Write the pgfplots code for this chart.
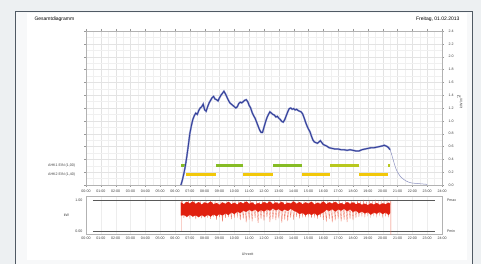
\documentclass[border=0pt]{standalone}
\usepackage{pgfplots}
\pgfplotsset{compat=1.18}
\usepackage{fontspec}
\setmainfont{Liberation Sans}
\definecolor{bgc}{HTML}{EDF0F2}
\definecolor{panel}{HTML}{F7F8F9}
\definecolor{frame}{HTML}{505A64}
\definecolor{curve}{HTML}{2F3C96}
\definecolor{halo}{HTML}{8C94CC}
\definecolor{tail}{HTML}{8A90C0}
\definecolor{grn}{HTML}{86BC25}
\definecolor{ygrn}{HTML}{B8C81E}
\definecolor{yel}{HTML}{F2C80A}
\definecolor{dred}{HTML}{E0200F}
\definecolor{salm}{HTML}{F07A66}
\definecolor{txt}{HTML}{404040}
\newcommand{\tk}{\fontsize{3.6}{4}\selectfont}
\begin{document}
\begin{tikzpicture}[x=1pt,y=1pt]
\useasboundingbox (0,0) rectangle (481,264);
\fill[bgc] (0,0) rectangle (481,264);
\filldraw[fill=panel,draw=frame,line width=0.8pt] (15,-2) rectangle (472,253);
\fill[white] (27,4) rectangle (467,251);
\node[anchor=west,font=\fontsize{5}{6}\selectfont] at (31,245) {Gesamtdiagramm};
\node[anchor=east,font=\fontsize{5}{6}\selectfont] at (463,245) {Freitag, 01.02.2013};
% upper axis
\begin{axis}[
  at={(86pt,79pt)}, anchor=south west, scale only axis,
  width=356pt, height=154pt,
  xmin=0, xmax=24, ymin=0, ymax=2.4,
  xtick={0,...,24},
  xticklabels={00:00,01:00,02:00,03:00,04:00,05:00,06:00,07:00,08:00,09:00,10:00,11:00,12:00,13:00,14:00,15:00,16:00,17:00,18:00,19:00,20:00,21:00,22:00,23:00,24:00},
  minor x tick num=1,
  ytick={0,0.2,...,2.41},
  minor y tick num=1,
  yticklabel pos=right,
  yticklabel style={/pgf/number format/fixed,/pgf/number format/precision=1,/pgf/number format/fixed zerofill, xshift=1pt},
  /pgf/number format/assume math mode=true,
  tick label style={font=\tk, text=txt},
  xticklabel style={yshift=1pt},
  grid=both,
  major grid style={draw=black!11, line width=0.3pt},
  minor grid style={draw=black!6, line width=0.3pt},
  axis line style={draw=black!30, line width=0.4pt},
  tick style={draw=black!40, line width=0.3pt},
  major tick length=2pt, minor tick length=0pt,
  tick align=outside,
  clip=false,
]
\addplot[yel, line width=2.6pt] coordinates {(6.74,0.16)(8.77,0.16)};
\addplot[yel, line width=2.6pt] coordinates {(10.59,0.16)(12.61,0.16)};
\addplot[yel, line width=2.6pt] coordinates {(14.57,0.16)(16.45,0.16)};
\addplot[yel, line width=2.6pt] coordinates {(18.41,0.16)(20.36,0.16)};
\addplot[grn, line width=2.6pt] coordinates {(6.41,0.30)(6.74,0.30)};
\addplot[grn, line width=2.6pt] coordinates {(8.77,0.30)(10.59,0.30)};
\addplot[grn, line width=2.6pt] coordinates {(12.61,0.30)(14.57,0.30)};
\addplot[ygrn, line width=2.6pt] coordinates {(16.45,0.30)(18.41,0.30)};
\addplot[ygrn, line width=2.6pt] coordinates {(20.36,0.30)(20.50,0.30)};
\foreach \st in {{halo, line width=1.8pt},{curve, line width=0.8pt}}{
\expandafter\addplot\expandafter[\st] coordinates {
(6.40,0.00)(6.50,0.08)(6.60,0.18)(6.70,0.30)(6.80,0.45)(6.90,0.62)(7.00,0.80)(7.10,0.92)(7.20,1.02)(7.30,1.08)
(7.40,1.12)(7.50,1.10)(7.60,1.16)(7.70,1.20)(7.80,1.22)(7.90,1.26)(8.00,1.17)(8.10,1.15)(8.20,1.22)(8.30,1.28)
(8.40,1.32)(8.50,1.36)(8.60,1.38)(8.70,1.34)(8.80,1.33)(8.90,1.31)(9.00,1.36)(9.10,1.40)(9.20,1.43)(9.30,1.46)
(9.40,1.42)(9.50,1.37)(9.60,1.32)(9.70,1.28)(9.80,1.26)(9.90,1.24)(10.00,1.22)(10.10,1.20)(10.20,1.22)(10.30,1.27)
(10.40,1.29)(10.50,1.28)(10.60,1.30)(10.70,1.32)(10.80,1.33)(10.90,1.30)(11.00,1.24)(11.10,1.20)(11.20,1.13)(11.30,1.08)
(11.40,1.04)(11.50,0.98)(11.60,0.92)(11.70,0.86)(11.80,0.82)(11.90,0.82)(12.00,0.90)(12.10,0.98)(12.20,1.05)(12.30,1.10)
(12.40,1.14)(12.50,1.12)(12.60,1.10)(12.70,1.09)(12.80,1.06)(12.90,1.07)(13.00,1.04)(13.10,1.02)(13.20,0.99)(13.30,0.98)
(13.40,1.02)(13.50,1.08)(13.60,1.14)(13.70,1.19)(13.80,1.20)(13.90,1.18)(14.00,1.19)(14.10,1.17)(14.20,1.18)(14.30,1.16)
(14.40,1.15)(14.50,1.14)(14.60,1.11)(14.70,1.05)(14.80,0.98)(14.90,0.92)(15.00,0.87)(15.10,0.83)(15.20,0.76)(15.30,0.70)
(15.40,0.67)(15.50,0.66)(15.60,0.65)(15.70,0.67)(15.80,0.69)(15.90,0.66)(16.00,0.63)(16.20,0.61)(16.40,0.58)(16.60,0.57)
(16.80,0.56)(17.00,0.56)(17.20,0.55)(17.40,0.55)(17.60,0.54)(17.80,0.55)(18.00,0.54)(18.20,0.53)(18.40,0.53)(18.60,0.55)
(18.80,0.56)(19.00,0.57)(19.20,0.58)(19.40,0.58)(19.60,0.59)(19.80,0.60)(20.00,0.61)(20.10,0.62)(20.20,0.61)(20.30,0.60)
(20.40,0.58)(20.50,0.55)};
}
\addplot[tail, line width=0.5pt] coordinates {
(20.50,0.55)(20.60,0.48)(20.70,0.40)(20.80,0.32)(20.90,0.25)(21.00,0.20)(21.20,0.13)(21.40,0.09)(21.60,0.06)(21.80,0.04)
(22.00,0.03)(22.50,0.02)(23.00,0.01)};
\node[anchor=east,font=\tk,text=txt] at (axis cs:-0.5,0.30) {AHK1 EIN (1,00)};
\node[anchor=east,font=\tk,text=txt] at (axis cs:-0.5,0.16) {AHK2 EIN (1,40)};
\node[rotate=90,font=\tk,text=txt] at (axis cs:25.2,1.3) {kW/m$^2$};
\end{axis}
% lower axis
\begin{axis}[
  at={(86pt,30pt)}, anchor=south west, scale only axis,
  width=356pt, height=38pt,
  xmin=0, xmax=24, ymin=-0.097, ymax=1.129,
  xtick={0,...,24},
  xticklabels={00:00,01:00,02:00,03:00,04:00,05:00,06:00,07:00,08:00,09:00,10:00,11:00,12:00,13:00,14:00,15:00,16:00,17:00,18:00,19:00,20:00,21:00,22:00,23:00,24:00},
  ytick={0,1}, yticklabels={0.00,1.00},
  tick label style={font=\tk, text=txt},
  xticklabel style={yshift=1pt},
  xmajorgrids, major grid style={draw=black!7, line width=0.3pt},
  axis line style={draw=black!30, line width=0.4pt},
  tick style={draw=none},
  clip=false,
]
\addplot[black!65, line width=0.6pt] coordinates {(0.47,1)(23.5,1)};
\addplot[black!65, line width=0.6pt] coordinates {(0.47,0)(23.5,0)};
\addplot[salm, line width=0.35pt] coordinates {
(6.42,0.0)(6.42,0.96)
(6.5,0.96)(6.6,0.42)(6.7,0.93)(6.8,0.48)(6.9,0.97)(7.0,0.40)(7.1,0.94)(7.2,0.45)(7.3,0.96)(7.4,0.38)
(7.5,0.92)(7.6,0.44)(7.7,0.97)(7.8,0.41)(7.9,0.93)(8.0,0.47)(8.1,0.96)(8.2,0.43)(8.3,0.91)(8.4,0.39)
(8.5,0.95)(8.6,0.46)(8.7,0.97)(8.8,0.36)(8.9,0.93)(9.0,0.44)(9.1,0.96)(9.2,0.30)(9.3,0.92)(9.4,0.42)
(9.5,0.97)(9.6,0.45)(9.7,0.94)(9.8,0.38)(9.9,0.96)(10.0,0.43)(10.1,0.92)(10.2,0.47)(10.3,0.97)(10.4,0.35)
(10.5,0.93)(10.6,0.40)(10.7,0.96)(10.8,0.28)(10.9,0.94)(11.0,0.37)(11.1,0.97)(11.2,0.31)(11.3,0.92)(11.4,0.42)
(11.5,0.96)(11.6,0.26)(11.7,0.93)(11.8,0.39)(11.9,0.97)(12.0,0.33)(12.1,0.94)(12.2,0.44)(12.3,0.96)(12.4,0.29)
(12.5,0.92)(12.6,0.38)(12.7,0.97)(12.8,0.35)(12.9,0.93)(13.0,0.41)(13.1,0.96)(13.2,0.27)(13.3,0.94)(13.4,0.36)
(13.5,0.97)(13.6,0.32)(13.7,0.92)(13.8,0.43)(13.9,0.96)(14.0,0.37)(14.1,0.93)(14.2,0.46)(14.3,0.97)(14.4,0.41)
(14.5,0.94)(14.6,0.48)(14.7,0.96)(14.8,0.44)(14.9,0.92)(15.0,0.49)(15.1,0.97)(15.2,0.42)(15.3,0.93)(15.4,0.47)
(15.5,0.96)(15.6,0.40)(15.7,0.94)(15.8,0.45)(15.9,0.97)(16.0,0.36)(16.1,0.92)(16.2,0.30)(16.3,0.96)(16.4,0.38)
(16.5,0.93)(16.6,0.28)(16.7,0.97)(16.8,0.34)(16.9,0.94)(17.0,0.40)(17.1,0.96)(17.2,0.31)(17.3,0.92)(17.4,0.37)
(17.5,0.97)(17.6,0.29)(17.7,0.93)(17.8,0.39)(17.9,0.96)(18.0,0.35)(18.1,0.94)(18.2,0.42)(18.3,0.97)(18.4,0.46)
(18.5,0.93)(18.6,0.50)(18.7,0.96)(18.8,0.47)(18.9,0.92)(19.0,0.51)(19.1,0.95)(19.2,0.48)(19.3,0.93)(19.4,0.52)
(19.5,0.96)(19.6,0.49)(19.7,0.92)(19.8,0.53)(19.9,0.95)(20.0,0.47)(20.1,0.93)(20.2,0.50)(20.3,0.96)(20.4,0.48)
(20.5,0.94)(20.55,0.95)(20.55,-0.12)};
\addplot[fill=dred, draw=dred, line width=0.2pt] coordinates {
(6.4,0.92)(6.6,0.86)(6.8,0.94)(7.0,0.88)(7.2,0.95)(7.4,0.87)(7.6,0.93)(7.8,0.85)(8.0,0.92)(8.2,0.88)
(8.4,0.95)(8.6,0.86)(8.8,0.90)(9.0,0.84)(9.2,0.92)(9.4,0.87)(9.6,0.94)(9.8,0.86)(10.0,0.91)(10.2,0.85)
(10.4,0.93)(10.6,0.88)(10.8,0.95)(11.0,0.87)(11.2,0.92)(11.4,0.84)(11.6,0.90)(11.8,0.86)(12.0,0.93)(12.2,0.88)
(12.4,0.95)(12.6,0.86)(12.8,0.92)(13.0,0.87)(13.2,0.94)(13.4,0.85)(13.6,0.91)(13.8,0.88)(14.0,0.95)(14.2,0.87)
(14.4,0.93)(14.6,0.86)(14.8,0.92)(15.0,0.88)(15.2,0.94)(15.4,0.85)(15.6,0.91)(15.8,0.87)(16.0,0.95)(16.2,0.86)
(16.4,0.92)(16.6,0.88)(16.8,0.94)(17.0,0.86)(17.2,0.90)(17.4,0.85)(17.6,0.93)(17.8,0.87)(18.0,0.92)(18.2,0.86)
(18.4,0.90)(18.6,0.84)(18.8,0.88)(19.0,0.83)(19.2,0.89)(19.4,0.85)(19.6,0.90)(19.8,0.84)(20.0,0.89)(20.2,0.86)
(20.4,0.91)(20.5,0.88)
(20.5,0.58)(20.4,0.52)(20.2,0.60)(20.0,0.55)(19.8,0.62)(19.6,0.56)(19.4,0.60)(19.2,0.53)(19.0,0.61)(18.8,0.57)
(18.6,0.63)(18.4,0.58)(18.2,0.66)(18.0,0.62)(17.8,0.70)(17.6,0.64)(17.4,0.72)(17.2,0.66)(17.0,0.70)(16.8,0.63)
(16.6,0.71)(16.4,0.65)(16.2,0.69)(16.0,0.60)(15.8,0.56)(15.6,0.50)(15.4,0.58)(15.2,0.52)(15.0,0.57)(14.8,0.51)
(14.6,0.59)(14.4,0.55)(14.2,0.62)(14.0,0.66)(13.8,0.72)(13.6,0.65)(13.4,0.70)(13.2,0.64)(13.0,0.71)(12.8,0.67)
(12.6,0.73)(12.4,0.66)(12.2,0.70)(12.0,0.63)(11.8,0.68)(11.6,0.62)(11.4,0.70)(11.2,0.64)(11.0,0.69)(10.8,0.62)
(10.6,0.66)(10.4,0.58)(10.2,0.63)(10.0,0.55)(9.8,0.60)(9.6,0.52)(9.4,0.57)(9.2,0.50)(9.0,0.55)(8.8,0.48)
(8.6,0.54)(8.4,0.47)(8.2,0.53)(8.0,0.46)(7.8,0.52)(7.6,0.45)(7.4,0.51)(7.2,0.47)(7.0,0.53)(6.8,0.46)
(6.6,0.52)(6.4,0.50)} -- cycle;
\node[anchor=west,font=\tk,text=txt] at (axis cs:24.1,1) {Pmax};
\node[anchor=west,font=\tk,text=txt] at (axis cs:24.1,0) {Pmin};
\node[anchor=east,font=\tk,text=txt] at (axis cs:-0.9,0.5) {kW};
\node[font=\tk,text=txt] at (axis cs:10.9,-0.75) {Uhrzeit};
\end{axis}
\end{tikzpicture}
\end{document}
